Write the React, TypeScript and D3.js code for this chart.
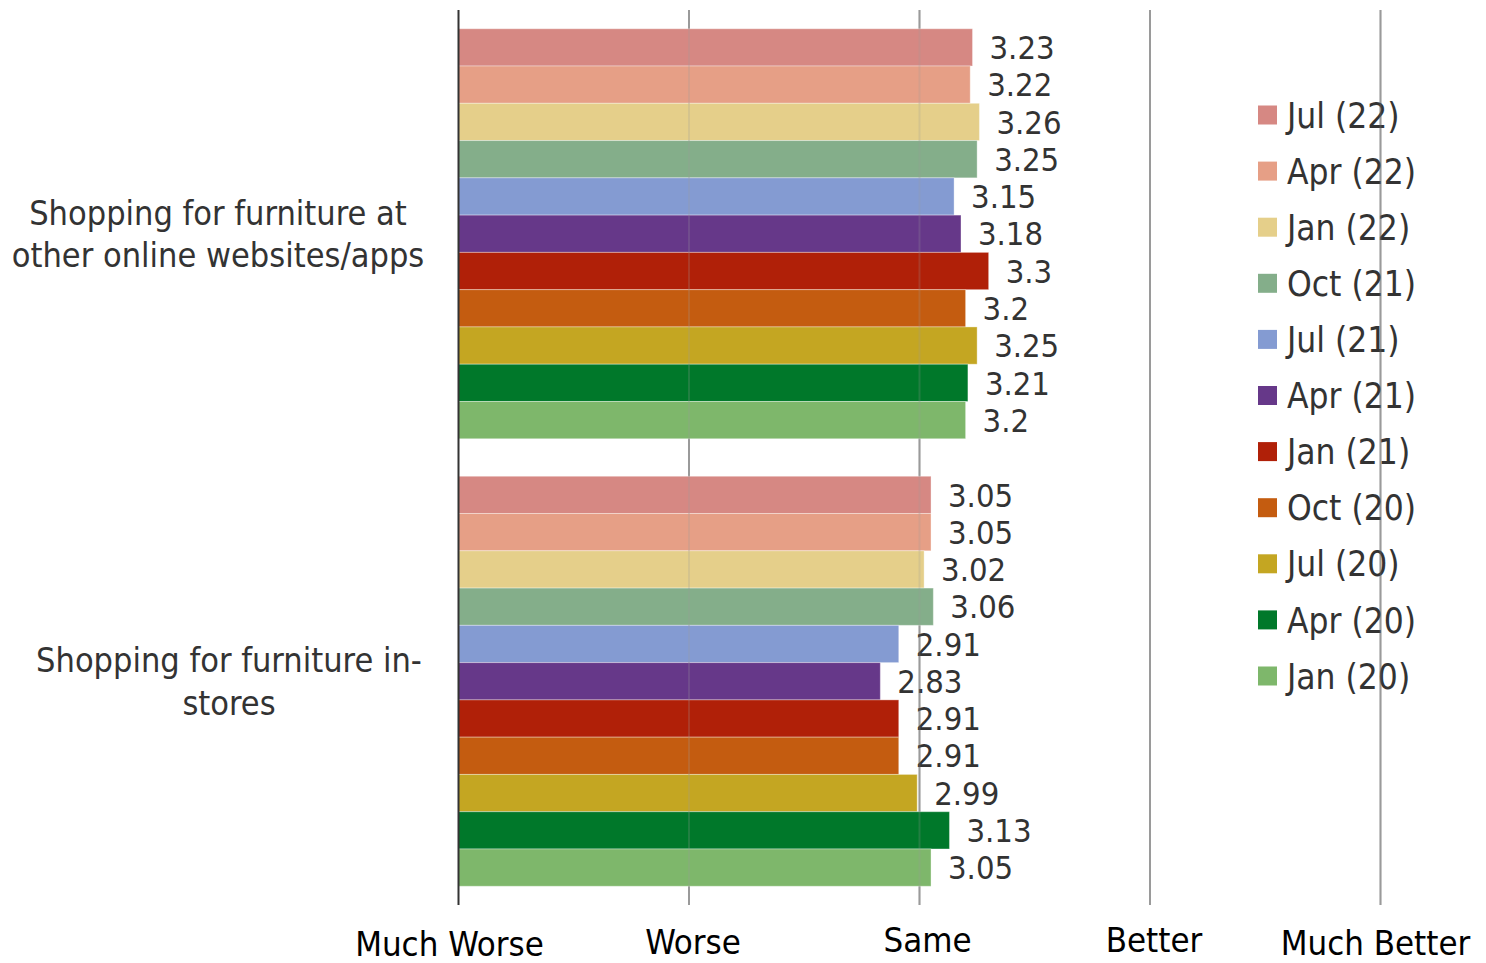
import React from "react";
import * as d3 from "d3";

const categories = [
  "Shopping for furniture at other online websites/apps",
  "Shopping for furniture in-stores",
];
const categoryLines = [
  ["Shopping for furniture at", "other online websites/apps"],
  ["Shopping for furniture in-", "stores"],
];
const seriesNames = [
  "Jul (22)", "Apr (22)", "Jan (22)", "Oct (21)", "Jul (21)", "Apr (21)",
  "Jan (21)", "Oct (20)", "Jul (20)", "Apr (20)", "Jan (20)",
];
const seriesColors = [
  "#D68883", "#E69F86", "#E5CF8A", "#84AE8A", "#849BD2", "#663889",
  "#B02008", "#C45C10", "#C4A622", "#00782A", "#7EB76B",
];
const onlineValues = [3.23, 3.22, 3.26, 3.25, 3.15, 3.18, 3.3, 3.2, 3.25, 3.21, 3.2];
const storeValues = [3.05, 3.05, 3.02, 3.06, 2.91, 2.83, 2.91, 2.91, 2.99, 3.13, 3.05];
const valuesByCategory = [onlineValues, storeValues];
const tickValues = [1, 2, 3, 4, 5];
const tickLabels = ["Much Worse", "Worse", "Same", "Better", "Much Better"];

const W = 1486;
const H = 963;
const FONT = "'DejaVu Sans Condensed', 'DejaVu Sans', sans-serif";

export default function App() {
  const x = d3.scaleLinear().domain([1, 5]).range([458.5, 1380.5]);
  const y0 = d3
    .scaleBand<string>()
    .domain(categories)
    .range([10, 905])
    .paddingInner(0.0838)
    .paddingOuter(0.0419);
  const y1 = d3
    .scaleBand<string>()
    .domain(seriesNames)
    .range([0, y0.bandwidth()]);
  const legendY = d3
    .scalePoint<string>()
    .domain(seriesNames)
    .range([115, 676]);
  const labelX = [218, 229];
  const tickDx = [-9, 4, 8, 4, -5];
  const tickDy = [1, -1, -3, -3, 0];

  const grid = (opacity: number, key: string) => (
    <g key={key}>
      {tickValues.slice(1).map((t) => (
        <line
          key={t}
          x1={x(t)}
          x2={x(t)}
          y1={10}
          y2={905}
          stroke="#9a9a9a"
          strokeWidth={2}
          strokeOpacity={opacity}
        />
      ))}
    </g>
  );

  return (
    <svg
      width={W}
      height={H}
      style={{ position: "absolute", left: 0, top: 0, fontFamily: FONT, fontStretch: "condensed" }}
    >
      <rect x={0} y={0} width={W} height={H} fill="#fff" />
      {grid(1, "g1")}
      {categories.map((c, ci) => (
        <g key={c} transform={`translate(0,${y0(c)})`}>
          {seriesNames.map((s, si) => {
            const v = valuesByCategory[ci][si];
            const yy = y1(s)!;
            return (
              <g key={s}>
                <rect
                  x={x(1)}
                  y={yy}
                  width={x(v) - x(1)}
                  height={y1.bandwidth()}
                  fill={seriesColors[si]}
                  stroke="#ffffff"
                  strokeOpacity={0.35}
                  strokeWidth={1}
                />
                <text
                  x={x(v) + 17}
                  y={yy + y1.bandwidth() / 2}
                  dy="0.36em"
                  fontSize={32.5}
                  fill="#333"
                >
                  {String(v)}
                </text>
              </g>
            );
          })}
          {categoryLines[ci].map((line, li) => (
            <text
              key={li}
              x={labelX[ci]}
              y={y0.bandwidth() / 2 + (li - (categoryLines[ci].length - 1) / 2) * 42.5}
              dy="0.36em"
              textAnchor="middle"
              fontSize={34}
              fill="#333"
            >
              {line}
            </text>
          ))}
        </g>
      ))}
      {seriesNames.map((s, si) => (
        <g key={s} transform={`translate(0,${legendY(s)})`}>
          <rect x={1258} y={-9.5} width={19} height={19} fill={seriesColors[si]} />
          <text x={1287} y={0} dy="0.36em" fontSize={35} fill="#333">
            {s}
          </text>
        </g>
      ))}
      {grid(0.22, "g2")}
      <line x1={x(1)} x2={x(1)} y1={10} y2={905} stroke="#333" strokeWidth={2} />
      {tickValues.map((t, i) => (
        <text
          key={t}
          x={x(t) + tickDx[i]}
          y={943 + tickDy[i]}
          dy="0.36em"
          textAnchor="middle"
          fontSize={34.5}
          fill="#000"
        >
          {tickLabels[i]}
        </text>
      ))}
    </svg>
  );
}
